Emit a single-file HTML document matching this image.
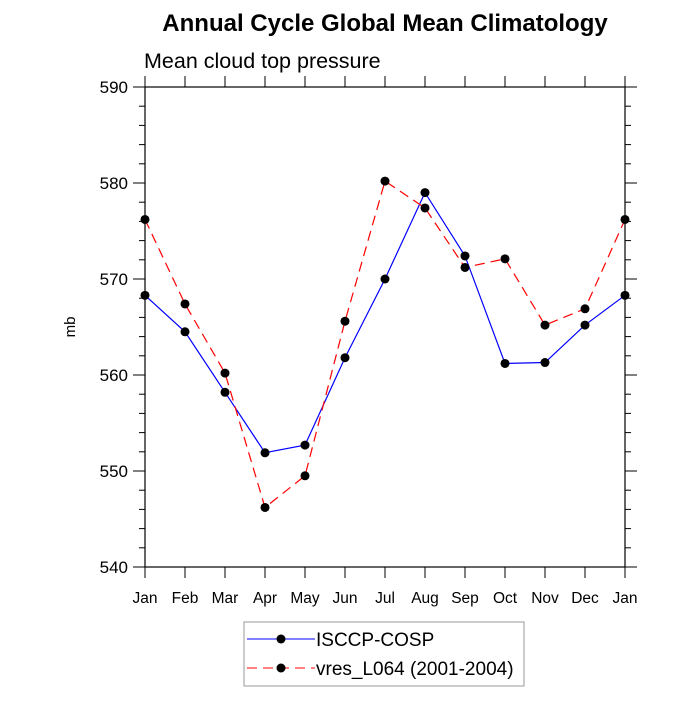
<!DOCTYPE html>
<html><head><meta charset="utf-8"><style>
body{margin:0;background:#fff}
svg text{font-family:"Liberation Sans",sans-serif}
</style></head><body>
<svg id="chart" width="700" height="700" xmlns="http://www.w3.org/2000/svg">
<rect width="700" height="700" fill="#fff"/>
<text x="385" y="31" text-anchor="middle" font-size="24" font-weight="bold">Annual Cycle Global Mean Climatology</text>
<text x="144" y="68" font-size="21.5">Mean cloud top pressure</text>
<text x="75" y="327" font-size="15" text-anchor="middle" transform="rotate(-90 75 327)">mb</text>
<g id="axes"></g>
<g id="series"></g>
<g>
<rect x="244" y="622" width="280" height="64" fill="#fff" stroke="#999" stroke-width="1"/>
<line x1="247" y1="639" x2="315" y2="639" stroke="#0000ff" stroke-width="1"/>
<circle cx="281" cy="639" r="4.5" fill="#000"/>
<text x="316" y="646" font-size="19">ISCCP-COSP</text>
<line x1="247" y1="668" x2="315" y2="668" stroke="#ff0000" stroke-width="1" stroke-dasharray="10,6"/>
<circle cx="281" cy="668" r="4.5" fill="#000"/>
<text x="316" y="675" font-size="19">vres_L064 (2001-2004)</text>
</g>
</svg>
<script>
const months=["Jan","Feb","Mar","Apr","May","Jun","Jul","Aug","Sep","Oct","Nov","Dec","Jan"];
const isccp=[568.3,564.5,558.2,551.9,552.7,561.8,570.0,579.0,572.4,561.2,561.3,565.2,568.3];
const vres=[576.2,567.4,560.2,546.2,549.5,565.6,580.2,577.4,571.2,572.1,565.2,566.9,576.2];
const yTicks=[540,550,560,570,580,590];
const X0=145,X1=625,Y0=567,Y1=87,YMIN=540,YMAX=590;
const xs=i=>X0+(X1-X0)*i/(months.length-1);
const ys=v=>Y0-(v-YMIN)/(YMAX-YMIN)*(Y0-Y1);
const NS="http://www.w3.org/2000/svg";
function mk(t,a,p){const e=document.createElementNS(NS,t);for(const k in a)e.setAttribute(k,a[k]);p.appendChild(e);return e;}
const ax=document.getElementById('axes');
const frame=mk('rect',{x:X0,y:Y1,width:X1-X0,height:Y0-Y1,fill:'none',stroke:'#000','stroke-width':1.2},ax);


for(let v=YMIN;v<=YMAX;v+=2){const maj=(v%10===0);const L=maj?12:6;const y=ys(v);
mk('line',{x1:X0-L,y1:y,x2:X0,y2:y,stroke:'#000','stroke-width':1},ax);
mk('line',{x1:X1,y1:y,x2:X1+L,y2:y,stroke:'#000','stroke-width':1},ax);}
yTicks.forEach(v=>{const t=mk('text',{x:X0-17,y:ys(v)+6,'font-size':17,'text-anchor':'end'},ax);t.textContent=v;

});
months.forEach((m,i)=>{const x=xs(i);
mk('line',{x1:x,y1:Y0,x2:x,y2:Y0+11,stroke:'#000','stroke-width':1},ax);
mk('line',{x1:x,y1:Y1-11,x2:x,y2:Y1,stroke:'#000','stroke-width':1},ax);
const t=mk('text',{x:x,y:603,'font-size':15.5,'text-anchor':'middle'},ax);t.textContent=m;

});
const sg=document.getElementById('series');
function draw(vals,color,dash,name){
const pts=vals.map((v,i)=>xs(i)+','+ys(v)).join(' ');
const pl=mk('polyline',{points:pts,fill:'none',stroke:color,'stroke-width':1.2,'stroke-dasharray':dash},sg);


vals.forEach((v,i)=>{const c=mk('circle',{cx:xs(i),cy:ys(v),r:4.5,fill:'#000'},sg);

});}
draw(isccp,'#0000ff','none','isccp');
draw(vres,'#ff0000','10,6','vres');
</script>
</body></html>
